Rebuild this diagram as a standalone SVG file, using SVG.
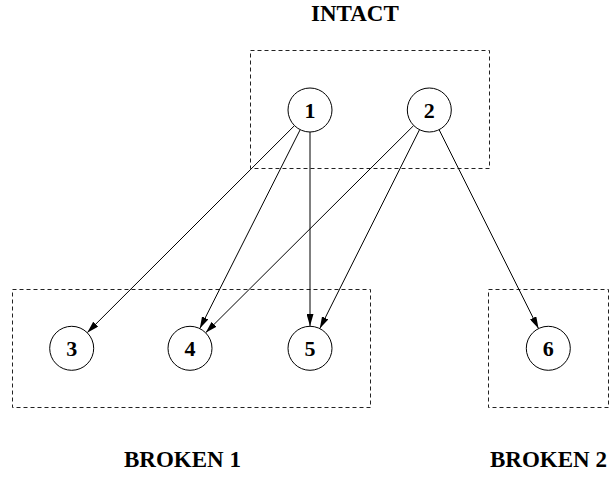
<svg xmlns="http://www.w3.org/2000/svg" width="612" height="478" viewBox="0 0 612 478">
<style>
.box{fill:none;stroke:#222;stroke-width:1;stroke-dasharray:4,3}
.node circle{fill:#fff;stroke:#000;stroke-width:1}
.node text{font-family:"Liberation Serif",serif;font-weight:bold;font-size:22px;text-anchor:middle}
.lbl{font-family:"Liberation Serif",serif;font-weight:bold;font-size:23px}
.edge{stroke:#000;stroke-width:1;fill:none;marker-end:url(#arr)}
</style>
<defs>
<marker id="arr" markerUnits="userSpaceOnUse" markerWidth="12" markerHeight="7" refX="12" refY="3.5" orient="auto">
<path d="M0,0 L12,3.5 L0,7 z" fill="#000"/>
</marker>
</defs>
<g id="groups">
<rect class="box" x="250.5" y="50.5" width="239" height="118"/>
<rect class="box" x="12.5" y="289.5" width="358" height="118"/>
<rect class="box" x="488.5" y="289.5" width="120" height="118"/>
<text class="lbl" x="311" y="21">INTACT</text>
<text class="lbl" x="124" y="467">BROKEN 1</text>
<text class="lbl" x="490" y="467">BROKEN 2</text>
</g>
<g id="connectors">
<line class="edge" x1="294.5" y1="125.6" x2="87.2" y2="332.7"/>
<line class="edge" x1="300.2" y1="129.7" x2="199.8" y2="328.6"/>
<line class="edge" x1="310" y1="132" x2="310" y2="326"/>
<line class="edge" x1="413.7" y1="125.5" x2="205.6" y2="332.8"/>
<line class="edge" x1="419.5" y1="129.7" x2="319.8" y2="328.6"/>
<line class="edge" x1="439.1" y1="129.7" x2="538.5" y2="328.6"/>
</g>
<g id="n1" class="node"><circle cx="310" cy="110" r="22"/><text x="310" y="117.5">1</text></g>
<g id="n2" class="node"><circle cx="429.3" cy="110" r="22"/><text x="429.3" y="117.5">2</text></g>
<g id="n3" class="node"><circle cx="71.7" cy="348.3" r="22"/><text x="71.7" y="356">3</text></g>
<g id="n4" class="node"><circle cx="190" cy="348.3" r="22"/><text x="190" y="356">4</text></g>
<g id="n5" class="node"><circle cx="310" cy="348.3" r="22"/><text x="310" y="356">5</text></g>
<g id="n6" class="node"><circle cx="548.3" cy="348.3" r="22"/><text x="548.3" y="356">6</text></g>
</svg>
